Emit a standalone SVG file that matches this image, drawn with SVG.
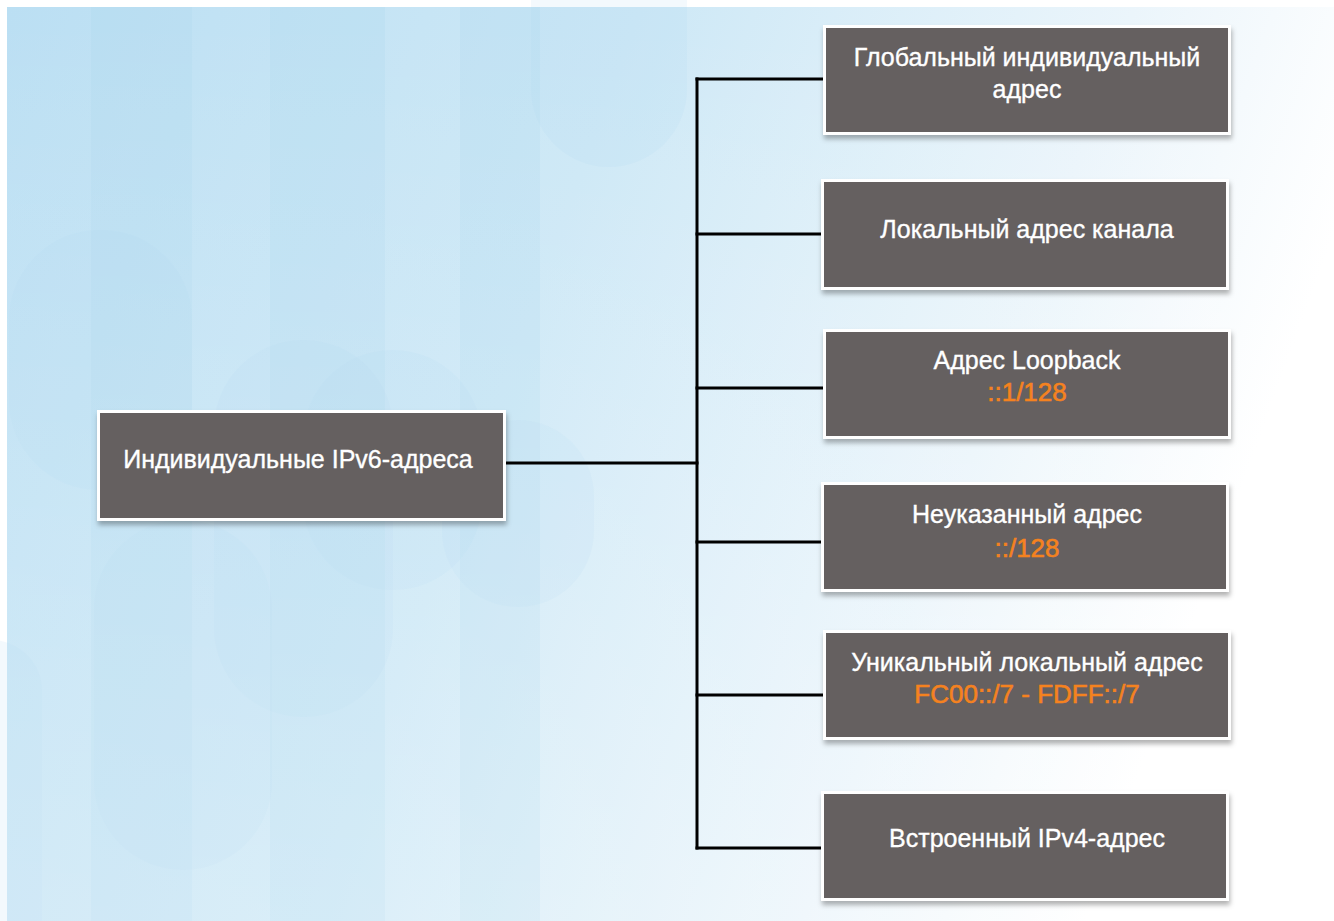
<svg xmlns="http://www.w3.org/2000/svg" width="1334" height="921" viewBox="0 0 1334 921">
<defs>
<linearGradient id="bg" x1="0" y1="0" x2="1" y2="0.25">
<stop offset="0" stop-color="#bbdff3"/>
<stop offset="0.45" stop-color="#cde8f6"/>
<stop offset="0.8" stop-color="#ebf5fb"/>
<stop offset="1" stop-color="#ffffff"/>
</linearGradient>
<linearGradient id="fadeV" x1="0" y1="0" x2="0" y2="1">
<stop offset="0" stop-color="#ffffff" stop-opacity="0"/>
<stop offset="1" stop-color="#ffffff" stop-opacity="0.25"/>
</linearGradient>
<filter id="sh" x="-5%" y="-10%" width="112%" height="130%">
<feDropShadow dx="1" dy="4" stdDeviation="2.5" flood-color="#000" flood-opacity="0.3"/>
</filter>
</defs>
<style>
.box{fill:#656061;stroke:#ffffff;stroke-width:3;filter:url(#sh)}
.t{font-family:"Liberation Sans",Arial,sans-serif;font-size:25px;fill:#ffffff;stroke:#ffffff;stroke-width:0.35;text-anchor:middle}
.o{fill:#f5821f;stroke:#f5821f;stroke-width:0.6;font-size:26px}
.c{stroke:#000;stroke-width:3;fill:none;stroke-linecap:square}
.pill{fill:#a9d6ef;opacity:0.14}
.band{fill:#a9d6ef;opacity:0.22}
</style>
<rect x="0" y="0" width="1334" height="921" fill="#ffffff"/>
<g id="background">
<rect x="7" y="7" width="1327" height="914" fill="url(#bg)"/>
<rect class="band" x="91" y="7" width="43" height="914"/>
<rect class="band" x="134" y="7" width="58" height="914" opacity="0.12"/>
<rect class="band" x="270" y="7" width="115" height="914" opacity="0.08"/>
<rect class="band" x="460" y="7" width="80" height="914" opacity="0.06"/>
<rect class="pill" x="531" y="-80" width="156" height="247" rx="78"/>
<rect class="pill" x="9" y="230" width="183" height="260" rx="90"/>
<rect class="pill" x="94" y="520" width="178" height="350" rx="89" opacity="0.1"/>
<rect class="pill" x="214" y="340" width="179" height="377" rx="89" opacity="0.1"/>
<rect class="pill" x="303" y="350" width="179" height="240" rx="89" opacity="0.07"/>
<rect class="pill" x="442" y="420" width="152" height="187" rx="76" opacity="0.07"/>
<rect class="pill" x="-60" y="640" width="102" height="400" rx="51"/>
<rect x="7" y="7" width="1327" height="914" fill="url(#fadeV)"/>
</g>
<g id="connectors">
<path class="c" d="M505 463 H697"/>
<path class="c" d="M697 79 V848"/>
<path class="c" d="M697 79 H823"/>
<path class="c" d="M697 234 H821"/>
<path class="c" d="M697 388 H823"/>
<path class="c" d="M697 542 H821"/>
<path class="c" d="M697 695 H823"/>
<path class="c" d="M697 848 H821"/>
</g>
<g id="n0">
<rect class="box" x="98.5" y="411.5" width="406" height="108"/>
<text class="t" x="298" y="468">Индивидуальные IPv6-адреса</text>
</g>
<g id="n1">
<rect class="box" x="824.5" y="26.5" width="405" height="107"/>
<text class="t" x="1027" y="66">Глобальный индивидуальный</text>
<text class="t" x="1027" y="98">адрес</text>
</g>
<g id="n2">
<rect class="box" x="822.5" y="180.5" width="405" height="108"/>
<text class="t" x="1027" y="238">Локальный адрес канала</text>
</g>
<g id="n3">
<rect class="box" x="824.5" y="330.5" width="405" height="107"/>
<text class="t" x="1027" y="369">Адрес Loopback</text>
<text class="t o" x="1027" y="401">::1/128</text>
</g>
<g id="n4">
<rect class="box" x="822.5" y="483.5" width="405" height="107"/>
<text class="t" x="1027" y="523">Неуказанный адрес</text>
<text class="t o" x="1027" y="557">::/128</text>
</g>
<g id="n5">
<rect class="box" x="824.5" y="631.5" width="405" height="107"/>
<text class="t" x="1027" y="671">Уникальный локальный адрес</text>
<text class="t o" x="1027" y="703">FC00::/7 - FDFF::/7</text>
</g>
<g id="n6">
<rect class="box" x="822.5" y="792.5" width="405" height="107"/>
<text class="t" x="1027" y="847">Встроенный IPv4-адрес</text>
</g>
</svg>
